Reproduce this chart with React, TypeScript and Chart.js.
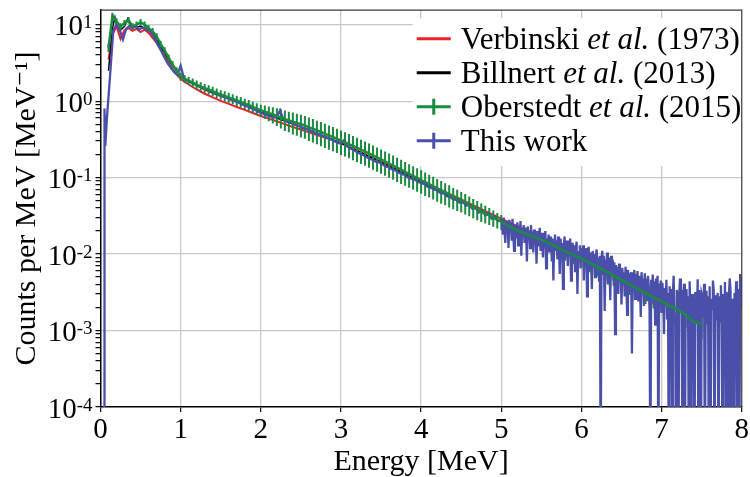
import React, { useEffect, useRef } from 'react';
import { Chart, registerables } from 'chart.js';

Chart.register(...registerables);

const SERIF = "'Liberation Serif', 'Times New Roman', 'DejaVu Serif', serif";

const grid = (start: number, step: number, count: number) =>
  Array.from({ length: count }, (_, i) => Math.round((start + i * step) * 1000) / 1000);

// ---------- Verbinski et al. (1973) ----------
const verbinskiE = [0.1, 0.15, 0.2, 0.25, 0.3, 0.35, 0.4, 0.45, 0.5, 0.55, 0.6, 0.7, 0.8, 0.9, 1.0, ...grid(1.1, 0.1, 45)];
const verbinskiY = [
  3.5, 7.5, 9.5, 6.5, 8.5, 9.0, 8.3, 8.8, 8.0, 8.6, 7.8, 5.8, 3.9, 2.6, 1.95,
  1.65, 1.42, 1.25, 1.12, 1.01, 0.92, 0.84, 0.77, 0.7, 0.64,
  0.59, 0.545, 0.5, 0.46, 0.425, 0.39, 0.36, 0.335, 0.31, 0.285,
  0.254, 0.227, 0.203, 0.181, 0.162, 0.145, 0.129, 0.115, 0.103, 0.092,
  0.082, 0.073, 0.065, 0.058, 0.052, 0.046, 0.041, 0.0365, 0.0325, 0.029,
  0.026, 0.0232, 0.0208, 0.0187, 0.0168,
];

// ---------- Billnert et al. (2013) ----------
const billnertE = [0.1, 0.15, 0.18, 0.2, 0.25, 0.3, 0.34, 0.38, 0.45, 0.5, 0.55, 0.6, 0.65, 0.7, 0.75, 0.8, 0.85, 0.9, 0.95, 1.0, ...grid(1.1, 0.1, 45)];
const billnertY = [
  2.5, 9, 12.5, 10, 8.5, 9.5, 12, 9.5, 9.2, 9.6, 9.0, 8.4, 7.5, 6.4, 5.2, 4.3, 3.5, 2.9, 2.5, 2.1,
  1.8, 1.6, 1.42, 1.28, 1.17, 1.07, 0.98, 0.89, 0.8, 0.72,
  0.66, 0.6, 0.55, 0.5, 0.46, 0.42, 0.38, 0.345, 0.31, 0.28,
  0.25, 0.225, 0.2, 0.178, 0.158, 0.14, 0.125, 0.111, 0.098, 0.087,
  0.077, 0.069, 0.061, 0.054, 0.048, 0.043, 0.038, 0.034, 0.03, 0.027,
  0.024, 0.0215, 0.019, 0.017, 0.0152,
];

// ---------- Oberstedt et al. (2015) ----------
const oberstedtE = [...grid(0.1, 0.05, 99), ...grid(5.1, 0.1, 25)];
const oberstedtY = [
  5.0, 13.0, 11.0, 9.5, 10.5, 11.5, 9.5, 10.0, 10.8, 10.0, 9.0, 8.2, 7.0, 5.6, 4.6, 3.7, 3.0, 2.5,
  2.1, 1.95, 1.85, 1.75, 1.65, 1.56, 1.48, 1.42, 1.35, 1.28, 1.22, 1.17, 1.12, 1.07, 1.02, 0.98, 0.93, 0.89, 0.84, 0.8,
  0.76, 0.73, 0.7, 0.67, 0.64, 0.61, 0.58, 0.56, 0.54, 0.52, 0.5, 0.48, 0.455, 0.435, 0.415, 0.395, 0.375, 0.355, 0.34, 0.322,
  0.305, 0.29, 0.275, 0.26, 0.246, 0.232, 0.22, 0.207, 0.195, 0.184, 0.173, 0.163, 0.153, 0.144, 0.135, 0.127, 0.119, 0.112, 0.105, 0.099,
  0.093, 0.087, 0.082, 0.077, 0.072, 0.068, 0.064, 0.06, 0.056, 0.053, 0.05, 0.047, 0.044, 0.041, 0.0385, 0.036, 0.034, 0.032, 0.03, 0.028,
  0.0265,
  0.023, 0.0205, 0.0185, 0.0168, 0.0153, 0.0138, 0.0122, 0.0108, 0.0097, 0.0088, 0.0077, 0.0068, 0.006, 0.0052, 0.0046,
  0.004, 0.0035, 0.0031, 0.0027, 0.0024, 0.0021, 0.0019, 0.0016, 0.0013, 0.0012,
];
// relative uncertainty of each Oberstedt point
const oberstedtRelErr = [
  0.12, 0.1, 0.1, 0.1, 0.1, 0.1, 0.1, 0.1, 0.1, 0.1, 0.1, 0.1, 0.1, 0.1, 0.1, 0.1, 0.11, 0.11,
  0.12, 0.12, 0.12, 0.13, 0.13, 0.13, 0.13, 0.14, 0.14, 0.14, 0.14, 0.15, 0.15, 0.15, 0.15, 0.16, 0.16, 0.16, 0.17, 0.17,
  0.18, 0.2, 0.22, 0.24, 0.26, 0.28, 0.3, 0.3, 0.32, 0.32, 0.33, 0.33, 0.34, 0.34, 0.34, 0.35, 0.35, 0.35, 0.35, 0.35,
  0.35, 0.35, 0.35, 0.35, 0.35, 0.35, 0.35, 0.35, 0.35, 0.35, 0.35, 0.35, 0.35, 0.35, 0.35, 0.35, 0.34, 0.34, 0.34, 0.34,
  0.34, 0.34, 0.33, 0.33, 0.33, 0.33, 0.32, 0.32, 0.31, 0.31, 0.3, 0.3, 0.29, 0.28, 0.28, 0.27, 0.26, 0.25, 0.24, 0.23,
  0.22,
  0.2, 0.2, 0.2, 0.2, 0.22, 0.22, 0.22, 0.24, 0.24, 0.24, 0.25, 0.25, 0.25, 0.26, 0.26,
  0.27, 0.27, 0.28, 0.28, 0.28, 0.3, 0.3, 0.32, 0.34, 0.36,
];

// ---------- This work ----------
const thisWorkE = [0.045, 0.05, 0.06, ...grid(0.08, 0.04, 124), ...grid(5.01, 0.01, 300)];
const thisWorkY = [
  0.00001, 0.8, 0.26,
  0.6, 2.2, 8.5, 10.0, 8.5, 6.4, 8.8, 9.6, 9.0, 9.5,
  8.6, 9.2, 8.8, 8.6, 7.6, 6.5, 5.3, 4.5, 3.7, 3.1,
  2.7, 2.4, 2.2, 2.9, 2.0, 1.85, 1.78, 1.72, 1.6, 1.56,
  1.48, 1.44, 1.36, 1.32, 1.26, 1.2, 1.17, 1.12, 1.08, 1.03,
  1.0, 0.96, 0.92, 0.88, 0.85, 0.81, 0.78, 0.74, 0.7, 0.68,
  0.65, 0.63, 0.61, 0.62, 0.76, 0.58, 0.55, 0.53, 0.51, 0.49,
  0.47, 0.45, 0.435, 0.42, 0.4, 0.385, 0.37, 0.355, 0.34, 0.33,
  0.315, 0.3, 0.285, 0.28, 0.31, 0.255, 0.24, 0.228, 0.216, 0.205,
  0.196, 0.186, 0.176, 0.17, 0.16, 0.158, 0.148, 0.14, 0.136, 0.128,
  0.124, 0.116, 0.112, 0.108, 0.1, 0.097, 0.094, 0.088, 0.085, 0.082,
  0.076, 0.074, 0.07, 0.068, 0.063, 0.062, 0.057, 0.056, 0.052, 0.051,
  0.047, 0.049, 0.043, 0.044, 0.039, 0.041, 0.035, 0.037, 0.032, 0.034,
  0.029, 0.031, 0.027, 0.028,
  // 5.01 .. 8.00 in 0.01 MeV bins
  0.026, 0.018, 0.03, 0.021, 0.014, 0.027, 0.019, 0.024, 0.012, 0.028,
  0.02, 0.025, 0.015, 0.029, 0.018, 0.011, 0.024, 0.021, 0.016, 0.026,
  0.013, 0.023, 0.019, 0.027, 0.0095, 0.021, 0.017, 0.024, 0.014, 0.022,
  0.018, 0.008, 0.023, 0.016, 0.02, 0.012, 0.024, 0.015, 0.019, 0.0105,
  0.021, 0.014, 0.018, 0.0075, 0.02, 0.013, 0.017, 0.022, 0.011, 0.016,
  0.019, 0.009, 0.017, 0.014, 0.02, 0.0065, 0.016, 0.012, 0.018, 0.0105,
  0.015, 0.017, 0.008, 0.016, 0.0045, 0.014, 0.018, 0.011, 0.015, 0.0085,
  0.017, 0.012, 0.0055, 0.016, 0.01, 0.014, 0.0035, 0.013, 0.017, 0.009,
  0.012, 0.015, 0.007, 0.013, 0.0095, 0.016, 0.0045, 0.011, 0.014, 0.008,
  0.013, 0.006, 0.012, 0.0145, 0.003, 0.011, 0.0095, 0.013, 0.0065, 0.012,
  0.0085, 0.013, 0.0045, 0.011, 0.0075, 0.012, 0.0028, 0.01, 0.0125, 0.006,
  0.0105, 0.0075, 0.0035, 0.011, 0.0085, 0.01, 0.005, 0.0095, 0.0115, 0.0065,
  0.009, 0.0045, 0.0095, 0.00001, 0.0085, 0.011, 0.0055, 0.0095, 0.0018, 0.0085,
  0.0065, 0.0105, 0.004, 0.009, 0.0072, 0.0025, 0.0095, 0.006, 0.0085, 0.0045,
  0.0078, 0.0009, 0.0072, 0.0055, 0.0068, 0.003, 0.0075, 0.005, 0.0062, 0.0022,
  0.0066, 0.0042, 0.0058, 0.0028, 0.0068, 0.0048, 0.0016, 0.0062, 0.0045, 0.0056,
  0.0032, 0.0058, 0.0005, 0.0052, 0.0045, 0.0062, 0.0026, 0.0055, 0.0038, 0.006,
  0.0024, 0.0052, 0.0042, 0.0015, 0.0058, 0.0036, 0.0048, 0.0021, 0.0056, 0.0034,
  0.0048, 0.0025, 0.0052, 0.0038, 0.0018, 0.00001, 0.0046, 0.0032, 0.0054, 0.0022,
  0.0044, 0.0012, 0.0048, 0.0035, 0.0052, 0.00001, 0.0041, 0.0026, 0.0045, 0.0017,
  0.0042, 0.0028, 0.0009, 0.0036, 0.0022, 0.0046, 0.0014, 0.0031, 0.00001, 0.0038,
  0.0021, 0.0035, 0.00001, 0.0029, 0.0052, 0.0016, 0.0012, 0.00001, 0.0034, 0.0024,
  0.00001, 0.003, 0.0048, 0.0018, 0.0034, 0.00001, 0.0027, 0.0041, 0.00001, 0.0022,
  0.0035, 0.0017, 0.0028, 0.00001, 0.0044, 0.0016, 0.00001, 0.003, 0.0021, 0.0026,
  0.00001, 0.0032, 0.0021, 0.0013, 0.0047, 0.00001, 0.0034, 0.0011, 0.00001, 0.003,
  0.0027, 0.0015, 0.0041, 0.00001, 0.0024, 0.0033, 0.0012, 0.0028, 0.00001, 0.0038,
  0.00001, 0.0026, 0.0019, 0.0045, 0.0034, 0.00001, 0.0029, 0.0014, 0.0025, 0.0031,
  0.00001, 0.0028, 0.0013, 0.0039, 0.0014, 0.00001, 0.003, 0.0022, 0.0043, 0.00001,
  0.0032, 0.0023, 0.00001, 0.0029, 0.0048, 0.0034, 0.00001, 0.0026, 0.0018, 0.00001,
  0.0031, 0.0016, 0.0044, 0.00001, 0.0035, 0.0022, 0.00001, 0.0055, 0.0019, 0.0033,
];

// ---------- axes ----------
const xMin = 0;
const xMax = 8;
const yMin = 1e-4;
const yMax = 15.47;
const yDecades = [-4, -3, -2, -1, 0, 1];
const ySignificands = [1, 2, 3, 4, 5, 6, 7, 8, 9];

const COLORS = {
  red: 'rgb(236,32,38)',
  black: '#000000',
  green: 'rgb(26,140,64)',
  blue: 'rgb(74,80,170)',
};
const GRID = '#c8c8c8';

const toXY = (xs: number[], ys: number[]) => xs.map((x, i) => ({ x, y: ys[i] }));

const isDecade = (v: number) => Math.abs(Math.log10(v) - Math.round(Math.log10(v))) < 1e-9;

// Error bars of the dataset carrying `relErr` are drawn just before the dataset flagged
// `errorBarsBelow` (so they sit under the blue line, while the green line stays on top).
const errorBarPlugin = {
  id: 'errorBars',
  beforeDatasetDraw(chart: any, args: any) {
    const trigger = chart.data.datasets[args.index];
    if (!trigger.errorBarsBelow) return;
    const ds = chart.data.datasets.find((d: any) => d.relErr);
    if (!ds) return;
    const { ctx, chartArea } = chart;
    const xs = chart.scales.x;
    const ys = chart.scales.y;
    ctx.save();
    ctx.beginPath();
    ctx.rect(chartArea.left, chartArea.top, chartArea.right - chartArea.left, chartArea.bottom - chartArea.top);
    ctx.clip();
    ctx.strokeStyle = ds.borderColor;
    ctx.lineWidth = 2;
    ctx.beginPath();
    ds.data.forEach((p: any, i: number) => {
      const e = ds.relErr[i] * p.y;
      const px = xs.getPixelForValue(p.x);
      ctx.moveTo(px, ys.getPixelForValue(p.y + e));
      ctx.lineTo(px, ys.getPixelForValue(Math.max(p.y - e, 1e-6)));
    });
    ctx.stroke();
    ctx.restore();
  },
};

const drawRich = (ctx: CanvasRenderingContext2D, text: string, x: number, y: number, size: number) => {
  const parts = text.split(/(et al\.)/);
  let cx = x;
  for (const p of parts) {
    if (!p) continue;
    const italic = p === 'et al.';
    ctx.font = `${italic ? 'italic ' : ''}${size}px ${SERIF}`;
    ctx.fillText(p, cx, y);
    cx += ctx.measureText(p).width;
  }
};

const legendPlugin = {
  id: 'insetLegend',
  beforeDatasetsDraw(chart: any) {
    const { ctx, chartArea } = chart;
    const left = chartArea.right - 329;
    const top = chartArea.top + 8;
    ctx.save();
    ctx.fillStyle = '#ffffff';
    ctx.fillRect(left, top, chartArea.right - left, 148);
    chart.data.datasets.forEach((ds: any, i: number) => {
      const rowY = top + 20.5 + i * 34;
      ctx.strokeStyle = ds.borderColor;
      ctx.lineWidth = 3;
      ctx.beginPath();
      ctx.moveTo(left + 4, rowY);
      ctx.lineTo(left + 38, rowY);
      if (ds.relErr || ds.legendCross) {
        ctx.moveTo(left + 21, rowY - 8);
        ctx.lineTo(left + 21, rowY + 8);
      }
      ctx.stroke();
      ctx.fillStyle = '#000';
      ctx.textBaseline = 'alphabetic';
      ctx.textAlign = 'left';
      drawRich(ctx, ds.label, left + 48, rowY + 10, 31);
    });
    ctx.restore();
  },
};

const framePlugin = {
  id: 'frameAndLabels',
  afterDatasetsDraw(chart: any) {
    const { ctx, chartArea } = chart;
    ctx.save();
    ctx.strokeStyle = '#3a3a3a';
    ctx.lineWidth = 1.2;
    ctx.beginPath();
    ctx.moveTo(chartArea.left, chartArea.top);
    ctx.lineTo(chartArea.right, chartArea.top);
    ctx.lineTo(chartArea.right, chartArea.bottom);
    ctx.stroke();
    ctx.restore();
  },
  afterDraw(chart: any) {
    const { ctx, chartArea } = chart;
    const ys = chart.scales.y;
    ctx.save();
    ctx.fillStyle = '#000';
    ctx.textBaseline = 'alphabetic';
    ctx.textAlign = 'right';
    const expRight = chartArea.left - 8;
    yDecades.forEach((d) => {
      const py = ys.getPixelForValue(Math.pow(10, d));
      const exp = d < 0 ? `-${-d}` : `${d}`;
      ctx.font = `19px ${SERIF}`;
      const w = ctx.measureText(exp).width;
      ctx.fillText(exp, expRight, py + 3.5);
      ctx.font = `29px ${SERIF}`;
      ctx.fillText('10', expRight - w, py + 10.5);
    });
    ctx.restore();
  },
};

export default function App() {
  const canvasRef = useRef<HTMLCanvasElement | null>(null);

  useEffect(() => {
    const canvas = canvasRef.current;
    if (!canvas) return;
    const chart = new Chart(canvas, {
      type: 'line',
      data: {
        datasets: [
          {
            label: 'Verbinski et al. (1973)',
            data: toXY(verbinskiE, verbinskiY),
            borderColor: COLORS.red,
            borderWidth: 2,
            pointRadius: 0,
            order: 3,
          },
          {
            label: 'Billnert et al. (2013)',
            data: toXY(billnertE, billnertY),
            borderColor: COLORS.black,
            borderWidth: 1.5,
            pointRadius: 0,
            order: 2,
          },
          {
            label: 'Oberstedt et al. (2015)',
            data: toXY(oberstedtE, oberstedtY),
            relErr: oberstedtRelErr,
            borderColor: COLORS.green,
            borderWidth: 2.5,
            pointRadius: 0,
            order: 0,
          } as any,
          {
            label: 'This work',
            data: toXY(thisWorkE, thisWorkY),
            legendCross: true,
            errorBarsBelow: true,
            borderColor: COLORS.blue,
            borderWidth: 2.3,
            pointRadius: 0,
            order: 1,
            clip: 0,
          } as any,
        ],
      },
      options: {
        animation: false,
        responsive: true,
        maintainAspectRatio: false,
        layout: { padding: { left: 0, right: 7, top: 7, bottom: 0 } },
        plugins: { legend: { display: false }, tooltip: { enabled: false } },
        scales: {
          x: {
            type: 'linear',
            min: xMin,
            max: xMax,
            afterFit: (s: any) => {
              s.height = 70;
            },
            ticks: {
              stepSize: 1,
              color: '#000',
              font: { family: SERIF, size: 29 },
              padding: 1,
              maxRotation: 0,
            },
            grid: {
              color: (c: any) =>
                c.tick && (c.tick.value === xMin || c.tick.value === xMax) ? 'rgba(0,0,0,0)' : GRID,
              lineWidth: 1.3,
              tickColor: '#000',
              tickLength: 5,
              tickWidth: 1.2,
            },
            border: { color: '#000', width: 1.5 },
            title: {
              display: true,
              text: 'Energy [MeV]',
              color: '#000',
              font: { family: SERIF, size: 30, lineHeight: 1 },
              padding: { top: 0, bottom: 0 },
            },
          },
          y: {
            type: 'logarithmic',
            min: yMin,
            max: yMax,
            afterBuildTicks: (s: any) => {
              const t: any[] = [];
              yDecades.forEach((d) => {
                ySignificands.forEach((m) => {
                  const v = m * Math.pow(10, d);
                  if (v >= yMin && v <= yMax) t.push({ value: v, major: m === 1 });
                });
              });
              s.ticks = t;
            },
            afterFit: (s: any) => {
              s.width = 100.5;
            },
            ticks: { callback: () => '', autoSkip: false },
            grid: {
              color: (c: any) => (c.tick && isDecade(c.tick.value) && c.tick.value > yMin ? GRID : 'rgba(0,0,0,0)'),
              lineWidth: 1.3,
              tickColor: '#000',
              tickLength: 5,
              tickWidth: 1.2,
            },
            border: { color: '#000', width: 1.5 },
            title: {
              display: true,
              text: 'Counts per MeV [MeV⁻¹]',
              color: '#000',
              font: { family: SERIF, size: 30, lineHeight: 1 },
              padding: { top: 12, bottom: 0 },
            },
          },
        },
      },
      plugins: [legendPlugin, errorBarPlugin, framePlugin],
    } as any);
    return () => chart.destroy();
  }, []);

  return (
    <div style={{ position: 'fixed', left: 0, top: 0, width: 750, height: 477, background: '#fff' }}>
      <canvas ref={canvasRef} />
    </div>
  );
}
